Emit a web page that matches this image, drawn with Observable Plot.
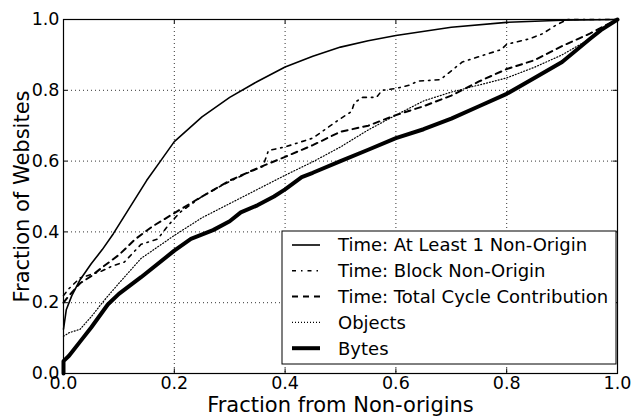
<!DOCTYPE html>
<html>
<head>
<meta charset="utf-8">
<script src="https://cdn.jsdelivr.net/npm/d3@7"></script>
<script src="https://cdn.jsdelivr.net/npm/@observablehq/plot@0.6"></script>
<style>
  html, body { margin: 0; padding: 0; background: white; }
  #chart svg { display: block; }
</style>
</head>
<body>
<div id="chart"></div>
<script>
// ---- data ----
const tickValues = [0, 0.2, 0.4, 0.6, 0.8, 1.0];
const gridValues = [0.2, 0.4, 0.6, 0.8];

const seriesNames = [
  "Time: At Least 1 Non-Origin",
  "Time: Block Non-Origin",
  "Time: Total Cycle Contribution",
  "Objects",
  "Bytes"
];

const timeAtLeast1 = [
  [0,0.125],[0.005,0.18],[0.015,0.22],[0.03,0.265],[0.05,0.31],[0.07,0.35],[0.09,0.395],
  [0.12,0.47],[0.15,0.545],[0.175,0.6],[0.2,0.655],[0.25,0.725],[0.3,0.78],[0.35,0.825],
  [0.4,0.866],[0.45,0.896],[0.5,0.922],[0.55,0.94],[0.6,0.955],[0.7,0.978],[0.8,0.992],
  [0.9,0.998],[1,1]
];

const timeBlock = [
  [0,0.22],[0.01,0.24],[0.03,0.27],[0.05,0.28],[0.07,0.29],[0.09,0.305],[0.11,0.315],
  [0.14,0.365],[0.17,0.38],[0.19,0.42],[0.21,0.455],[0.25,0.5],[0.29,0.535],[0.33,0.565],
  [0.36,0.585],[0.37,0.63],[0.4,0.64],[0.45,0.665],[0.5,0.72],[0.52,0.74],[0.525,0.765],
  [0.54,0.78],[0.565,0.78],[0.575,0.8],[0.6,0.805],[0.625,0.815],[0.64,0.826],[0.68,0.83],
  [0.72,0.88],[0.75,0.895],[0.79,0.915],[0.8,0.93],[0.84,0.945],[0.865,0.96],[0.89,0.985],
  [0.91,1.0],[1,1]
];

const timeTotalCycle = [
  [0,0.2],[0.01,0.22],[0.03,0.255],[0.05,0.275],[0.07,0.3],[0.1,0.335],[0.13,0.38],
  [0.16,0.415],[0.2,0.453],[0.25,0.5],[0.3,0.545],[0.35,0.58],[0.4,0.612],[0.45,0.645],
  [0.5,0.683],[0.55,0.7],[0.6,0.73],[0.65,0.755],[0.7,0.785],[0.75,0.825],[0.8,0.86],
  [0.85,0.885],[0.9,0.925],[0.95,0.96],[0.98,0.985],[1,1]
];

const objects = [
  [0,0.105],[0.01,0.115],[0.03,0.125],[0.05,0.16],[0.07,0.2],[0.1,0.255],[0.14,0.325],
  [0.2,0.39],[0.25,0.44],[0.3,0.48],[0.35,0.52],[0.4,0.56],[0.45,0.598],[0.5,0.64],
  [0.55,0.688],[0.6,0.73],[0.65,0.77],[0.7,0.795],[0.75,0.815],[0.8,0.835],[0.85,0.865],
  [0.9,0.9],[0.95,0.945],[0.98,0.98],[1,1]
];

const bytes = [
  [0,0],[0,0.035],[0.01,0.05],[0.03,0.09],[0.05,0.13],[0.08,0.195],[0.1,0.225],[0.14,0.272],
  [0.2,0.347],[0.23,0.38],[0.27,0.405],[0.3,0.43],[0.32,0.455],[0.35,0.475],[0.38,0.5],
  [0.4,0.52],[0.43,0.555],[0.45,0.567],[0.5,0.6],[0.55,0.632],[0.6,0.665],[0.65,0.69],
  [0.7,0.72],[0.75,0.755],[0.8,0.79],[0.85,0.835],[0.9,0.88],[0.95,0.945],[0.97,0.97],[1,1]
];

// ---- styles ----
const styles = [
  {width: 1.6, dash: null},
  {width: 1.6, dash: "4,5,1.5,5"},
  {width: 2, dash: "6,5"},
  {width: 1.2, dash: "1,2"},
  {width: 4, dash: null}
];
const allSeries = [timeAtLeast1, timeBlock, timeTotalCycle, objects, bytes];

const fmt = d3.format(".1f");
const FONT = "DejaVu Sans";

const lineMarks = allSeries.map((s, i) =>
  Plot.line(s, {x: d => d[0], y: d => d[1], stroke: "black",
    strokeWidth: styles[i].width, strokeDasharray: styles[i].dash, strokeLinejoin: "round"})
);

const plot = Plot.plot({
  width: 636,
  height: 416,
  marginLeft: 63,
  marginRight: 19,
  marginTop: 19,
  marginBottom: 43,
  style: {fontFamily: FONT, fontSize: "17.5px", color: "black", background: "white", overflow: "visible"},
  x: {domain: [0, 1]},
  y: {domain: [0, 1]},
  marks: [
    Plot.ruleX(gridValues, {stroke: "black", strokeWidth: 1, strokeDasharray: "1,3", strokeOpacity: 0.8}),
    Plot.ruleY(gridValues, {stroke: "black", strokeWidth: 1, strokeDasharray: "1,3", strokeOpacity: 0.8}),
    // inner ticks (matplotlib style)
    Plot.ruleX(tickValues, {y1: 0, y2: 0.013, stroke: "black"}),
    Plot.ruleX(tickValues, {y1: 0.987, y2: 1, stroke: "black"}),
    Plot.ruleY(tickValues, {x1: 0, x2: 0.008, stroke: "black"}),
    Plot.ruleY(tickValues, {x1: 0.992, x2: 1, stroke: "black"}),
    ...lineMarks,
    Plot.frame({stroke: "black", strokeWidth: 1.2}),
    Plot.axisX(tickValues, {tickSize: 0, tickPadding: 3, tickFormat: fmt, label: null, fontSize: 17.5}),
    Plot.axisY(tickValues, {tickSize: 0, tickPadding: 4, tickFormat: fmt, label: null, fontSize: 17.5}),
    Plot.text(["Fraction from Non-origins"], {frameAnchor: "bottom", lineAnchor: "middle", textAnchor: "middle", dy: 32, fontSize: 21, fill: "black"}),
    Plot.text(["Fraction of Websites"], {frameAnchor: "left", lineAnchor: "middle", textAnchor: "middle", dx: -41, rotate: -90, fontSize: 21, fill: "black"})
  ]
});

document.getElementById("chart").appendChild(plot);

// ---- legend (inside the plot, lower right) ----
const svg = d3.select(plot);
const lg = svg.append("g").attr("font-family", FONT).attr("font-size", 18).attr("text-anchor", "start");
const lx = 282, ly = 231, lw = 334, lh = 133;
lg.append("rect").attr("x", lx).attr("y", ly).attr("width", lw).attr("height", lh)
  .attr("fill", "white").attr("stroke", "black").attr("stroke-width", 1);
seriesNames.forEach((name, i) => {
  const yy = ly + 14 + i * 25.8;
  lg.append("line").attr("x1", lx + 10).attr("x2", lx + 38).attr("y1", yy).attr("y2", yy)
    .attr("stroke", "black").attr("stroke-width", styles[i].width)
    .attr("stroke-dasharray", styles[i].dash);
  lg.append("text").attr("x", lx + 56).attr("y", yy).attr("dy", "0.35em").attr("fill", "black")
    .attr("text-anchor", "start").text(name);
});
</script>
</body>
</html>
